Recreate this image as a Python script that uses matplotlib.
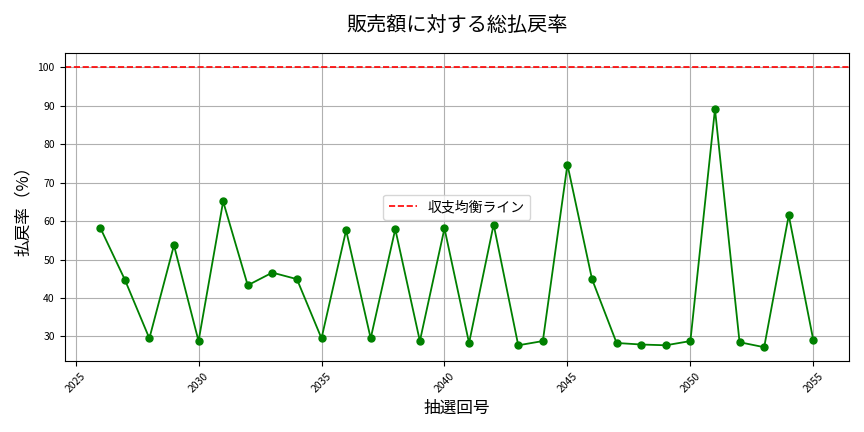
import matplotlib
matplotlib.use("Agg")
import matplotlib.pyplot as plt

plt.rcParams['font.family'] = ['Noto Sans CJK JP', 'DejaVu Sans']

draws = list(range(2026, 2056))
rates = [58.3, 44.8, 29.5, 53.7, 28.8, 65.1, 43.3, 46.6, 44.9, 29.5,
         57.6, 29.5, 57.9, 28.8, 58.1, 28.3, 59.1, 27.7, 28.8, 74.7,
         44.9, 28.3, 27.9, 27.7, 28.8, 89.1, 28.5, 27.2, 61.5, 29.0]
breakeven = 100

fig, ax = plt.subplots(figsize=(8.64, 4.32), dpi=100)
ax.plot(draws, rates, marker='o', color='green', markersize=5, linewidth=1.3)
ax.axhline(breakeven, color='red', linestyle='--', linewidth=1.2, label='収支均衡ライン')

ax.set_title('販売額に対する総払戻率', fontsize=14.5, pad=16)
ax.set_xlabel('抽選回号', fontsize=12)
ax.set_ylabel('払戻率（%）', fontsize=12)
ax.tick_params(axis='x', labelsize=7.5, rotation=45)
ax.tick_params(axis='y', labelsize=7.5)
ax.grid(True)
ax.legend(loc='center', fontsize=10)

fig.tight_layout()
fig.savefig('out.png')
